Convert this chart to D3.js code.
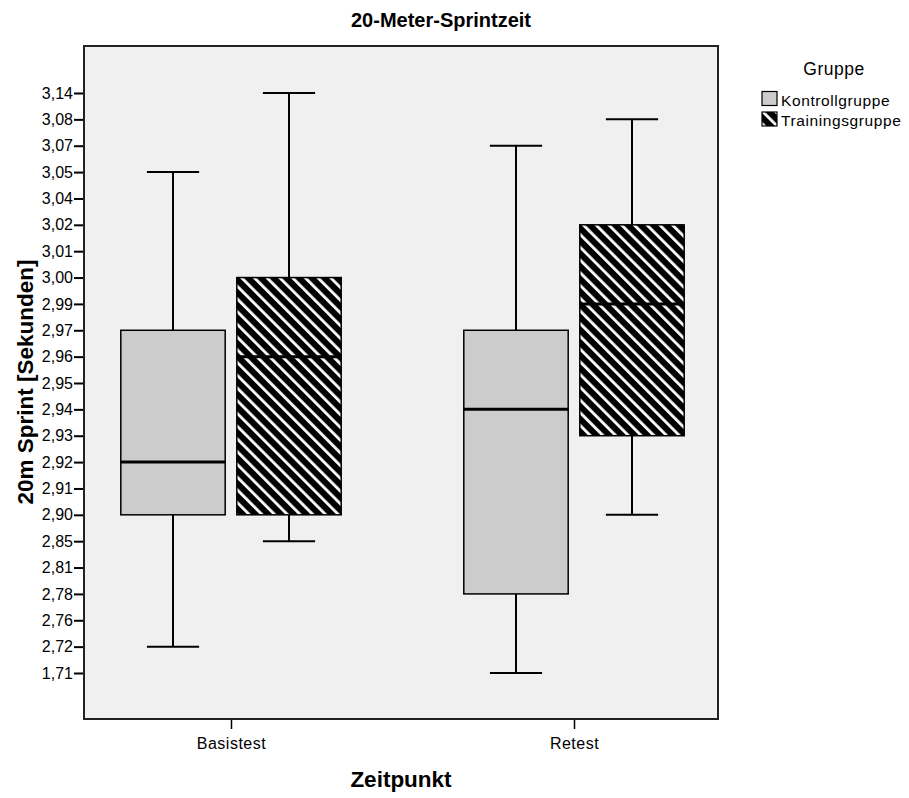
<!DOCTYPE html>
<html><head><meta charset="utf-8">
<script src="https://cdn.jsdelivr.net/npm/d3@7"></script>
<style>body{margin:0;background:#fff}svg{display:block}text{font-family:"Liberation Sans",Arial,sans-serif}</style>
</head><body>
<script>
const yLabels = ["1,71","2,72","2,76","2,78","2,81","2,85","2,90","2,91","2,92","2,93","2,94","2,95","2,96","2,97","2,99","3,00","3,01","3,02","3,04","3,05","3,07","3,08","3,14"];
const timepoints = ["Basistest","Retest"];
const groups = ["Kontrollgruppe","Trainingsgruppe"];
// [min, q1, median, q3, max] as axis labels
const kontrollStats = [["2,72","2,90","2,92","2,97","3,05"],["1,71","2,78","2,94","2,97","3,07"]];
const trainingStats = [["2,85","2,90","2,96","3,00","3,14"],["2,90","2,93","2,99","3,02","3,08"]];

const W=909,H=798;
const svg=d3.select("body").append("svg").attr("width",W).attr("height",H);
const defs=svg.append("defs");
const pat=defs.append("pattern").attr("id","hatch").attr("patternUnits","userSpaceOnUse")
  .attr("width",9).attr("height",9).attr("patternTransform","rotate(-45)");
pat.append("rect").attr("width",9).attr("height",9).attr("fill","#000");
pat.append("rect").attr("x",0).attr("width",2.8).attr("height",9).attr("fill","#fff");

const L=84,T=46,R=718,B=719;
svg.append("rect").attr("x",L).attr("y",T).attr("width",R-L).attr("height",B-T).attr("fill","#f0f0f0");

const y=d3.scalePoint().domain(yLabels).range([673,93]);
const x=d3.scalePoint().domain(timepoints).range([231,574]);
const g=d3.scaleBand().domain(groups).range([-116,116]).paddingInner(0.1).paddingOuter(0.05);

const yAxis=svg.append("g").attr("transform",`translate(${L},0)`).call(d3.axisLeft(y).tickSize(10).tickPadding(1));
yAxis.select(".domain").remove();
yAxis.selectAll(".tick line").attr("stroke","#000").attr("stroke-width",2);
yAxis.selectAll(".tick text").attr("font-size",16).attr("fill","#000").style("font-family","'Liberation Sans',Arial,sans-serif");

const xAxis=svg.append("g").attr("transform",`translate(0,${B})`).call(d3.axisBottom(x).tickSize(10).tickPadding(9));
xAxis.select(".domain").remove();
xAxis.selectAll(".tick line").attr("stroke","#000").attr("stroke-width",1.5);
xAxis.selectAll(".tick text").attr("font-size",16).attr("letter-spacing",0.5).attr("fill","#000").style("font-family","'Liberation Sans',Arial,sans-serif");

function drawBoxes(stats,gi,fill){
  timepoints.forEach((tp,i)=>{
    const s=stats[i];
    const x0=x(tp)+g(groups[gi]); const bw=g.bandwidth(); const cx=x0+bw/2;
    const grp=svg.append("g");
    grp.append("line").attr("x1",cx).attr("x2",cx).attr("y1",y(s[0])).attr("y2",y(s[1])).attr("stroke","#000").attr("stroke-width",2);
    grp.append("line").attr("x1",cx).attr("x2",cx).attr("y1",y(s[3])).attr("y2",y(s[4])).attr("stroke","#000").attr("stroke-width",2);
    [s[0],s[4]].forEach(v=>grp.append("line").attr("x1",cx-bw/4).attr("x2",cx+bw/4).attr("y1",y(v)).attr("y2",y(v)).attr("stroke","#000").attr("stroke-width",2));
    grp.append("rect").attr("x",x0).attr("y",y(s[3])).attr("width",bw).attr("height",y(s[1])-y(s[3]))
      .attr("fill",fill).attr("stroke","#000").attr("stroke-width",1.5);
    grp.append("line").attr("x1",x0).attr("x2",x0+bw).attr("y1",y(s[2])).attr("y2",y(s[2])).attr("stroke","#000").attr("stroke-width",3);
  });
}
drawBoxes(kontrollStats,0,"#cccccc");
drawBoxes(trainingStats,1,"url(#hatch)");

svg.append("rect").attr("x",L).attr("y",T).attr("width",R-L).attr("height",B-T).attr("fill","none").attr("stroke","#222").attr("stroke-width",2);

svg.append("text").attr("x",441).attr("y",27).attr("text-anchor","middle").attr("font-size",20).attr("font-weight","bold").text("20-Meter-Sprintzeit");
svg.append("text").attr("transform","translate(33,382) rotate(-90)").attr("text-anchor","middle").attr("font-size",22.5).attr("font-weight","bold").text("20m Sprint [Sekunden]");
svg.append("text").attr("x",401).attr("y",787).attr("text-anchor","middle").attr("font-size",22.5).attr("font-weight","bold").text("Zeitpunkt");

const leg=svg.append("g");
leg.append("text").attr("x",834).attr("y",75).attr("text-anchor","middle").attr("font-size",17.5).attr("letter-spacing",0.5).text("Gruppe");
const fills=["#cccccc","url(#hatch)"];
groups.forEach((gr,i)=>{
  leg.append("rect").attr("x",762).attr("y",91.5+i*20.5).attr("width",15).attr("height",14).attr("fill",fills[i]).attr("stroke","#000").attr("stroke-width",1.2);
  leg.append("text").attr("x",781).attr("y",105.5+i*20.5).attr("font-size",15.5).attr("letter-spacing",0.6).text(gr);
});
</script>
</body></html>
